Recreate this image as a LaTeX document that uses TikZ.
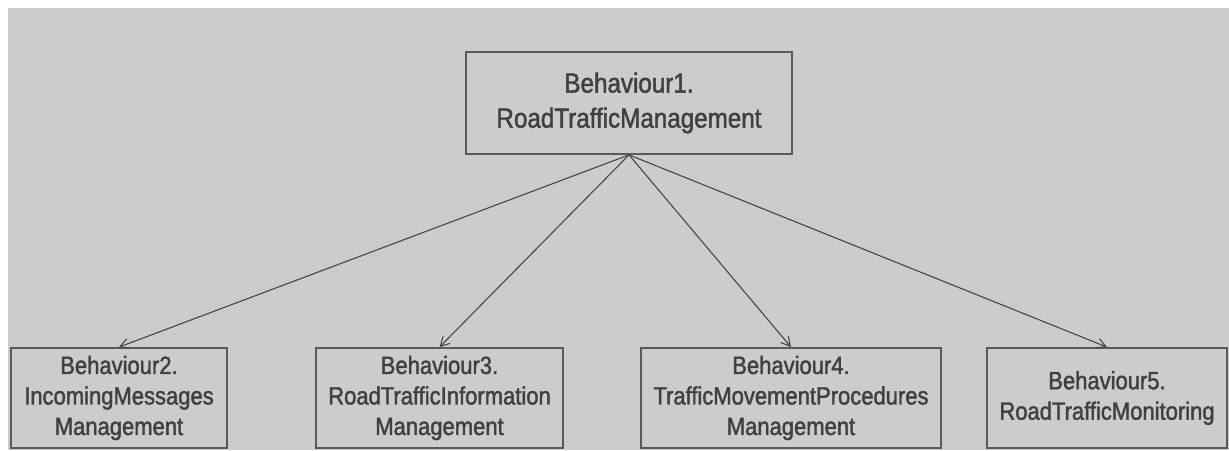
\documentclass[tikz,border=0pt]{standalone}
\usepackage{fontspec}
\setmainfont{Liberation Sans}[FakeStretch=0.88, FakeBold=1.6, BoldFont={Liberation Sans}]
\usetikzlibrary{arrows.meta,positioning}

\begin{document}
\begin{tikzpicture}[
  x=1pt, y=1pt,
  beh/.style={draw=black!65, line width=1.8pt, fill=none, text=black!75, align=center,
    inner sep=0pt, minimum height=100pt, font=\fontsize{25}{30.5}\selectfont\bfseries},
  arr/.style={-{Straight Barb[length=9pt,width=10pt]}, line width=1.1pt, draw=black!72}
]
\useasboundingbox (0,0) rectangle (1229,450);
\fill[white] (0,0) rectangle (1229,450);
\fill[black!20] (8,0) rectangle (1229,442);

\node[beh, minimum width=326pt, minimum height=102pt, font=\fontsize{27.5}{35}\selectfont\bfseries] (b1) at (629,347)
  {Behaviour1.\\RoadTrafficManagement};

\node[beh, minimum width=216pt] (b2) at (119,52) {Behaviour2.\\IncomingMessages\\Management};
\node[beh, minimum width=247pt] (b3) at (439.5,52) {Behaviour3.\\RoadTrafficInformation\\Management};
\node[beh, minimum width=300pt] (b4) at (791,52) {Behaviour4.\\TrafficMovementProcedures\\Management};
\node[beh, minimum width=240pt] (b5) at (1107,52) {Behaviour5.\\RoadTrafficMonitoring};

\draw[arr] (b1.south) -- (b2.north);
\draw[arr] (b1.south) -- (b3.north);
\draw[arr] (b1.south) -- (b4.north);
\draw[arr] (b1.south) -- (b5.north);
\end{tikzpicture}
\end{document}
